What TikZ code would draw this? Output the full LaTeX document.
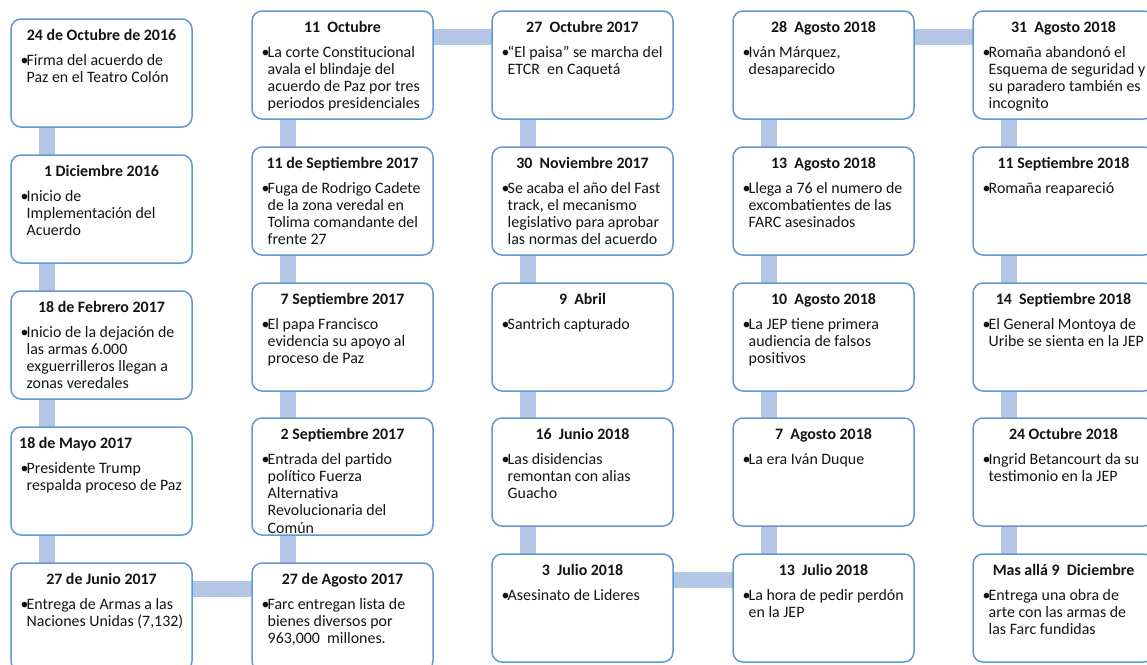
\documentclass[tikz,border=0pt]{standalone}
\usepackage{fontspec}
\setmainfont{Carlito}
\usetikzlibrary{calc,backgrounds}
\definecolor{boxline}{RGB}{98,152,210}
\definecolor{barblue}{RGB}{180,199,231}
\definecolor{txt}{RGB}{20,20,20}
\tikzset{
  evbox/.style={draw=boxline, line width=1.5pt, rounded corners=10pt, fill=white,
    minimum width=181pt, inner sep=0pt, outer sep=0pt},
  evtitle/.style={anchor=base, inner sep=0pt, text=txt, font=\fontsize{15.9}{17.3}\selectfont\bfseries},
  evtitleleft/.style={anchor=base west, inner sep=0pt, text=txt, font=\fontsize{15.9}{17.3}\selectfont\bfseries},
  evbullet/.style={anchor=base west, inner sep=0pt, text=txt, font=\fontsize{15.9}{17.3}\selectfont},
  evbody/.style={anchor=base west, inner sep=0pt, text=txt, font=\fontsize{15.9}{17.3}\selectfont},
  bar/.style={draw=barblue, line width=16pt}
}
\newcommand{\evbodytext}[1]{\begin{tabular}[t]{@{}l@{}}#1\end{tabular}}
% #1 name, #2 left, #3 top, #4 height, #5 title, #6 body
\newcommand{\evt}[6]{%
  \node[evbox, minimum height=#4pt, anchor=north west] (#1) at (#2,#3) {};
  \node[evtitle] (#1t) at ($(#1.north)+(0,21)$) {#5};
  \node[evbullet] (#1b) at ($(#1.north west)+(9.5,46)$) {\textbullet};
  \node[evbody] (#1x) at ($(#1.north west)+(15.5,46)$) {\evbodytext{#6}};
}
\newcommand{\evtl}[6]{%
  \node[evbox, minimum height=#4pt, anchor=north west] (#1) at (#2,#3) {};
  \node[evtitleleft] (#1t) at ($(#1.north west)+(8,21)$) {#5};
  \node[evbullet] (#1b) at ($(#1.north west)+(9.5,46)$) {\textbullet};
  \node[evbody] (#1x) at ($(#1.north west)+(15.5,46)$) {\evbodytext{#6}};
}
\begin{document}
\begin{tikzpicture}[x=1pt,y=-1pt]
\useasboundingbox (0,0) rectangle (1147,664);
% column 1
\evt{a1}{11}{19}{108}{24 de Octubre de 2016}{Firma del acuerdo de\\Paz en el Teatro Colón}
\evt{a2}{11}{155}{108}{1 Diciembre 2016}{Inicio de\\Implementación del\\Acuerdo}
\evt{a3}{11}{291}{108}{18 de Febrero 2017}{Inicio de la dejación de\\las armas 6.000\\exguerrilleros llegan a\\zonas veredales}
\evtl{a4}{11}{427}{108}{18 de Mayo 2017}{Presidente Trump\\respalda proceso de Paz}
\evt{a5}{11}{563}{108}{27 de Junio 2017}{Entrega de Armas a las\\Naciones Unidas (7,132)}
% column 2
\evt{b1}{252}{11}{108}{11~~Octubre}{La corte Constitucional\\avala el blindaje del\\acuerdo de Paz por tres\\periodos presidenciales}
\evt{b2}{252}{147}{108}{11 de Septiembre 2017}{Fuga de Rodrigo Cadete\\de la zona veredal en\\Tolima comandante del\\frente 27}
\evt{b3}{252}{283}{108}{7 Septiembre 2017}{El papa Francisco\\evidencia su apoyo al\\proceso de Paz}
\evt{b4}{252}{418}{117}{2 Septiembre 2017}{Entrada del partido\\político Fuerza\\Alternativa\\Revolucionaria del\\Común}
\evt{b5}{252}{563}{108}{27 de Agosto 2017}{Farc entregan lista de\\bienes diversos por\\963,000~~millones.}
% column 3
\evt{c1}{492}{11}{108}{27~~Octubre 2017}{“El paisa” se marcha del\\ETCR~~en Caquetá}
\evt{c2}{492}{147}{108}{30~~Noviembre 2017}{Se acaba el año del Fast\\track, el mecanismo\\legislativo para aprobar\\las normas del acuerdo}
\evt{c3}{492}{283}{108}{9~~Abril}{Santrich capturado}
\evt{c4}{492}{418}{108}{16~~Junio 2018}{Las disidencias\\remontan con alias\\Guacho}
\evt{c5}{492}{554}{108}{3~~Julio 2018}{Asesinato de Lideres}
% column 4
\evt{d1}{733}{11}{108}{28~~Agosto 2018}{Iván Márquez,\\desaparecido}
\evt{d2}{733}{147}{108}{13~~Agosto 2018}{Llega a 76 el numero de\\excombatientes de las\\FARC asesinados}
\evt{d3}{733}{283}{108}{10~~Agosto 2018}{La JEP tiene primera\\audiencia de falsos\\positivos}
\evt{d4}{733}{418}{108}{7~~Agosto 2018}{La era Iván Duque}
\evt{d5}{733}{554}{108}{13~~Julio 2018}{La hora de pedir perdón\\en la JEP}
% column 5
\evt{e1}{973}{11}{108}{31~~Agosto 2018}{Romaña abandonó el\\Esquema de seguridad y\\su paradero también es\\incognito}
\evt{e2}{973}{147}{108}{11 Septiembre 2018}{Romaña reapareció}
\evt{e3}{973}{283}{108}{14~~Septiembre 2018}{El General Montoya de\\Uribe se sienta en la JEP}
\evt{e4}{973}{418}{108}{24 Octubre 2018}{Ingrid Betancourt da su\\testimonio en la JEP}
\evt{e5}{973}{554}{108}{Mas allá 9~~Diciembre}{Entrega una obra de\\arte con las armas de\\las Farc fundidas}
% connectors
\begin{pgfonlayer}{background}
\foreach \col in {a,b,c,d,e}{
  \foreach \r/\s in {1/2,2/3,3/4,4/5}{
    \draw[bar] ($(\col\r.south west)+(36,-2)$) -- ($(\col\s.north west)+(36,2)$);
  }
}
\draw[bar] ($(a5.north east)+(-2,26)$) -- ($(b5.north west)+(2,26)$);
\draw[bar] ($(b1.north east)+(-2,26)$) -- ($(c1.north west)+(2,26)$);
\draw[bar] ($(c5.north east)+(-2,26)$) -- ($(d5.north west)+(2,26)$);
\draw[bar] ($(d1.north east)+(-2,26)$) -- ($(e1.north west)+(2,26)$);
\end{pgfonlayer}
\end{tikzpicture}
\end{document}
